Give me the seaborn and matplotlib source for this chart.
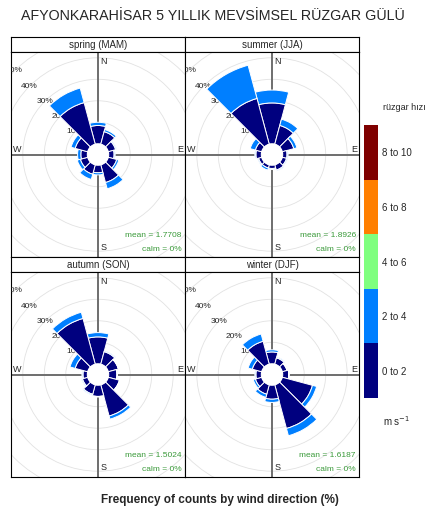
import matplotlib
matplotlib.use("Agg")
import matplotlib.pyplot as plt
from matplotlib.patches import Wedge, Circle
import numpy as np
import seaborn as sns

sns.set_theme(style="white")
plt.rcParams["font.family"] = ["Liberation Sans", "DejaVu Sans"]

# wind direction bins (degrees from north)
directions = [0, 30, 60, 90, 120, 150, 180, 210, 240, 270, 300, 330]

seasons = ["spring (MAM)", "summer (JJA)", "autumn (SON)", "winter (DJF)"]
means = ["1.7708", "1.8926", "1.5024", "1.6187"]

# frequency (%) per direction, split by speed bin
spring_0_2 = [8.5, 6, 3.5, 2.5, 4, 8.5, 3.5, 4.5, 3.5, 3, 6, 20]
spring_2_4 = [1.5, 1, 0.5, 0.5, 1, 3, 1, 2.5, 1.5, 1.5, 2, 7]
summer_0_2 = [19, 9, 5.5, 2, 2, 2.5, 1.5, 1.5, 1.5, 2.5, 3, 22]
summer_2_4 = [6, 3, 1.5, 0.5, 0.5, 0.5, 0.5, 1, 0.5, 0.5, 2.5, 16]
autumn_0_2 = [12.5, 6, 4.8, 3.8, 5.3, 15, 5.2, 4.5, 2.5, 2, 6, 22]
autumn_2_4 = [2, 0.5, 0.2, 0.2, 0.2, 1.5, 0.3, 0.5, 0.5, 0.5, 2.5, 3]
winter_0_2 = [5.5, 3, 2.2, 2.8, 14.5, 21, 6.5, 4.5, 3, 2.5, 4.5, 11]
winter_2_4 = [1, 0.5, 0.3, 0.2, 2, 3.5, 1.5, 1.5, 1, 0.5, 2, 3.5]

season_low = [spring_0_2, summer_0_2, autumn_0_2, winter_0_2]
season_high = [spring_2_4, summer_2_4, autumn_2_4, winter_2_4]

speed_bins = ["0 to 2", "2 to 4", "4 to 6", "6 to 8", "8 to 10"]
bin_colors = sns.color_palette(["#00007F", "#007FFF", "#7FFF7F", "#FF7F00", "#7F0000"])
ring_levels = [10, 20, 30, 40, 50]
HOLE = 5  # size of calm hole, in % units

W, H = 425, 511
fig = plt.figure(figsize=(W / 100, H / 100), dpi=100)


def px_axes(x0, y0, w, h):
    # box given in pixels from the top-left corner
    return fig.add_axes([x0 / W, 1 - (y0 + h) / H, w / W, h / H])


def rose_panel(ax, low, high, mean):
    rx, ry = 40.5, 47.7
    ax.set_xlim(-rx, rx)
    ax.set_ylim(-ry, ry)
    ax.set_xticks([])
    ax.set_yticks([])
    for s in ax.spines.values():
        s.set_color("black")
        s.set_linewidth(0.8)

    for p in ring_levels + [60]:
        ax.add_patch(Circle((0, 0), p + HOLE, fill=False, ec="#E2E2E2", lw=0.6, zorder=1))
    ax.axhline(0, color="#6E6E6E", lw=1.4, zorder=2)
    ax.axvline(0, color="#6E6E6E", lw=1.4, zorder=2)

    ang = np.deg2rad(135)
    for p in ring_levels:
        r = p + HOLE
        ax.text(r * np.cos(ang), r * np.sin(ang), f"{p}%", ha="center", va="center",
                fontsize=6, clip_on=True, zorder=3)

    for d, lo, hi in zip(directions, low, high):
        th = 90 - d
        ax.add_patch(Wedge((0, 0), HOLE + lo, th - 15, th + 15, width=lo,
                           fc=bin_colors[0], ec="white", lw=0.7, zorder=4))
        ax.add_patch(Wedge((0, 0), HOLE + lo + hi, th - 15, th + 15, width=hi,
                           fc=bin_colors[1], ec="white", lw=0.7, zorder=4))
    ax.add_patch(Circle((0, 0), HOLE, fc="white", ec="none", zorder=5))

    ax.text(1.0, ry - 4.5, "N", ha="left", va="center", fontsize=6.5)
    ax.text(1.0, -ry + 4.5, "S", ha="left", va="center", fontsize=6.5)
    ax.text(-rx + 1.0, 2.2, "W", ha="left", va="center", fontsize=6.5)
    ax.text(rx - 1.0, 2.2, "E", ha="right", va="center", fontsize=6.5)
    ax.text(rx - 1.5, -ry + 9.8, f"mean = {mean}", ha="right", va="center",
            fontsize=6, color="#3A9A3A")
    ax.text(rx - 1.5, -ry + 3.3, "calm = 0%", ha="right", va="center",
            fontsize=6, color="#3A9A3A")


def strip(ax, label):
    ax.set_xticks([])
    ax.set_yticks([])
    for s in ax.spines.values():
        s.set_color("black")
        s.set_linewidth(0.8)
    ax.text(0.5, 0.5, label, ha="center", va="center", fontsize=7, transform=ax.transAxes)


col_x = [11, 185]
strip_y = [37, 257]
panel_y = [52, 272]
for i, name in enumerate(seasons):
    r, c = divmod(i, 2)
    strip(px_axes(col_x[c], strip_y[r], 174, 15), name)
    rose_panel(px_axes(col_x[c], panel_y[r], 174, 205), season_low[i], season_high[i], means[i])

# speed legend
cax = px_axes(364, 125, 14, 273)
cax.bar([0] * len(speed_bins), [1] * len(speed_bins), bottom=range(len(speed_bins)),
        width=1, color=bin_colors, linewidth=0)
cax.set_xlim(-0.5, 0.5)
cax.set_ylim(0, len(speed_bins))
cax.set_xticks([])
cax.set_yticks([i + 0.5 for i in range(len(speed_bins))])
cax.set_yticklabels(speed_bins, fontsize=7)
cax.yaxis.tick_right()
cax.tick_params(axis="y", length=0, pad=3)
for s in cax.spines.values():
    s.set_visible(False)

fig.text(383 / W, 1 - 107 / H, "rüzgar hızı", ha="left", va="center", fontsize=6.5)
fig.text(383 / W, 1 - 421 / H, r"m s$^{-1}$", ha="left", va="center", fontsize=7)

fig.text(0.5, 1 - 16 / H, "AFYONKARAHİSAR 5 YILLIK MEVSİMSEL RÜZGAR GÜLÜ",
         ha="center", va="center", fontsize=10.3)
fig.text(220 / W, 1 - 500 / H, "Frequency of counts by wind direction (%)",
         ha="center", va="center", fontsize=8.5, fontweight="bold")

fig.savefig("out.png", dpi=100)
